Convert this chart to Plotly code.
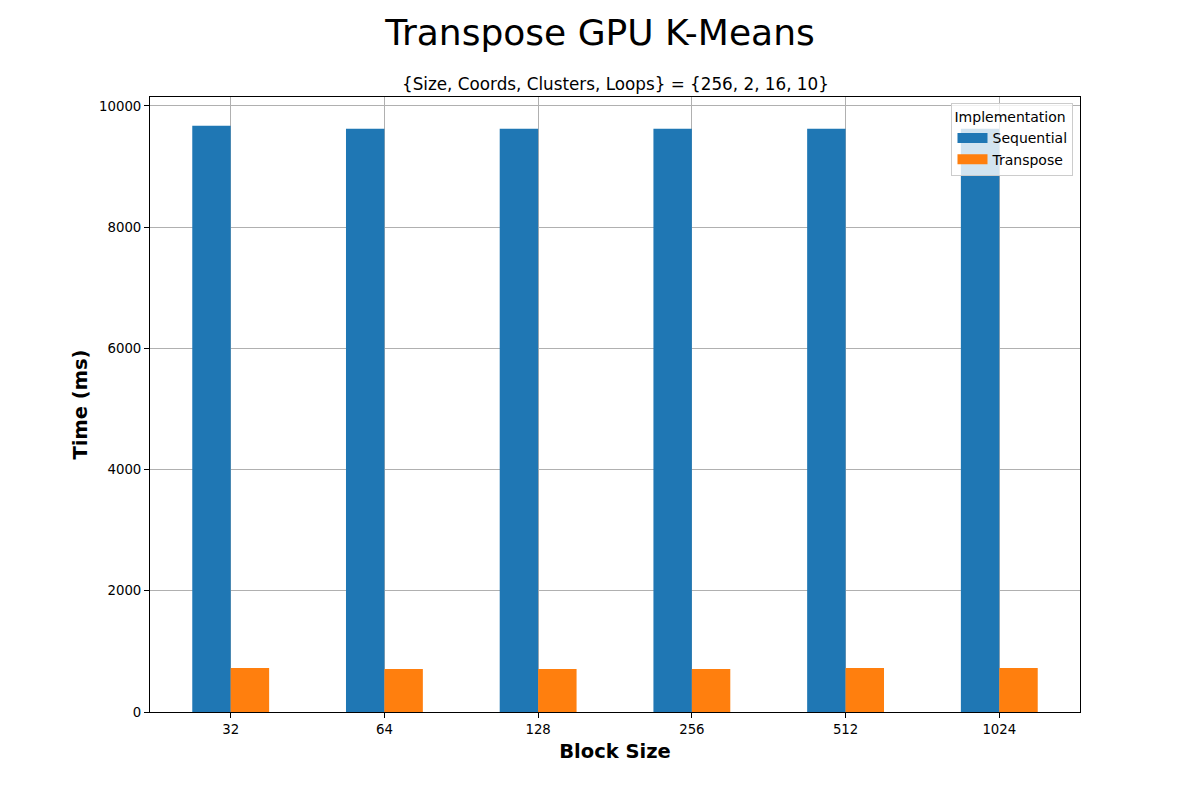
import plotly.graph_objects as go

block_sizes = ["32", "64", "128", "256", "512", "1024"]
sequential = [9675, 9626, 9626, 9626, 9626, 9626]
transpose = [725, 709, 709, 709, 725, 725]
series_names = ["Sequential", "Transpose"]
series_colors = ["#1f77b4", "#ff7f0e"]
y_ticks = [0, 2000, 4000, 6000, 8000, 10000]

FONT = "DejaVu Sans"

fig = go.Figure()
for name, vals, col in zip(series_names, [sequential, transpose], series_colors):
    fig.add_trace(go.Bar(name=name, x=block_sizes, y=vals, showlegend=False,
                         marker=dict(color=col, line=dict(width=0))))
# legend entries with wide rectangular swatches
for name, col in zip(series_names, series_colors):
    fig.add_trace(go.Scatter(name=name, x=[None], y=[None], mode="lines",
                             line=dict(color=col, width=10), hoverinfo="skip"))

axis_common = dict(
    showline=True, linecolor="black", linewidth=1, mirror=True,
    ticks="outside", ticklen=5, tickcolor="black", tickwidth=1,
    showgrid=True, gridcolor="#b0b0b0", gridwidth=1,
    tickfont=dict(family=FONT, size=13.3, color="black"),
    layer="above traces", zeroline=False,
)

fig.update_layout(
    width=1200, height=800,
    paper_bgcolor="white", plot_bgcolor="white",
    margin=dict(l=150, r=120, t=97, b=88),
    barmode="group", bargap=0.5, bargroupgap=0,
    font=dict(family=FONT, color="black"),
    title=dict(text="Transpose GPU K-Means", x=0.5, xanchor="center",
               y=0.96, yanchor="middle", yref="container",
               font=dict(family=FONT, size=36, color="black")),
    xaxis=dict(**axis_common, type="category", range=[-0.525, 5.525],
               title=dict(text="<b>Block Size</b>", standoff=8,
                          font=dict(family=FONT, size=19.5, color="black"))),
    yaxis=dict(**axis_common, range=[0, 10148], tickvals=y_ticks,
               ticktext=[str(v) for v in y_ticks],
               title=dict(text="<b>Time (ms)</b>", standoff=6,
                          font=dict(family=FONT, size=19.5, color="black"))),
    legend=dict(title=dict(text="Implementation", side="top",
                           font=dict(family=FONT, size=14, color="black")),
                x=0.993, y=0.99, xanchor="right", yanchor="top",
                bgcolor="rgba(255,255,255,0.8)", bordercolor="#cccccc", borderwidth=1,
                font=dict(family=FONT, size=14, color="black"),
                tracegroupgap=0, itemwidth=30),
    annotations=[dict(text="{Size, Coords, Clusters, Loops} = {256, 2, 16, 10}",
                      x=0.5, y=1.0, xref="paper", yref="paper",
                      xanchor="center", yanchor="bottom", yshift=1, showarrow=False,
                      font=dict(family=FONT, size=16.8, color="black"))],
)

fig.write_html("out.html")
